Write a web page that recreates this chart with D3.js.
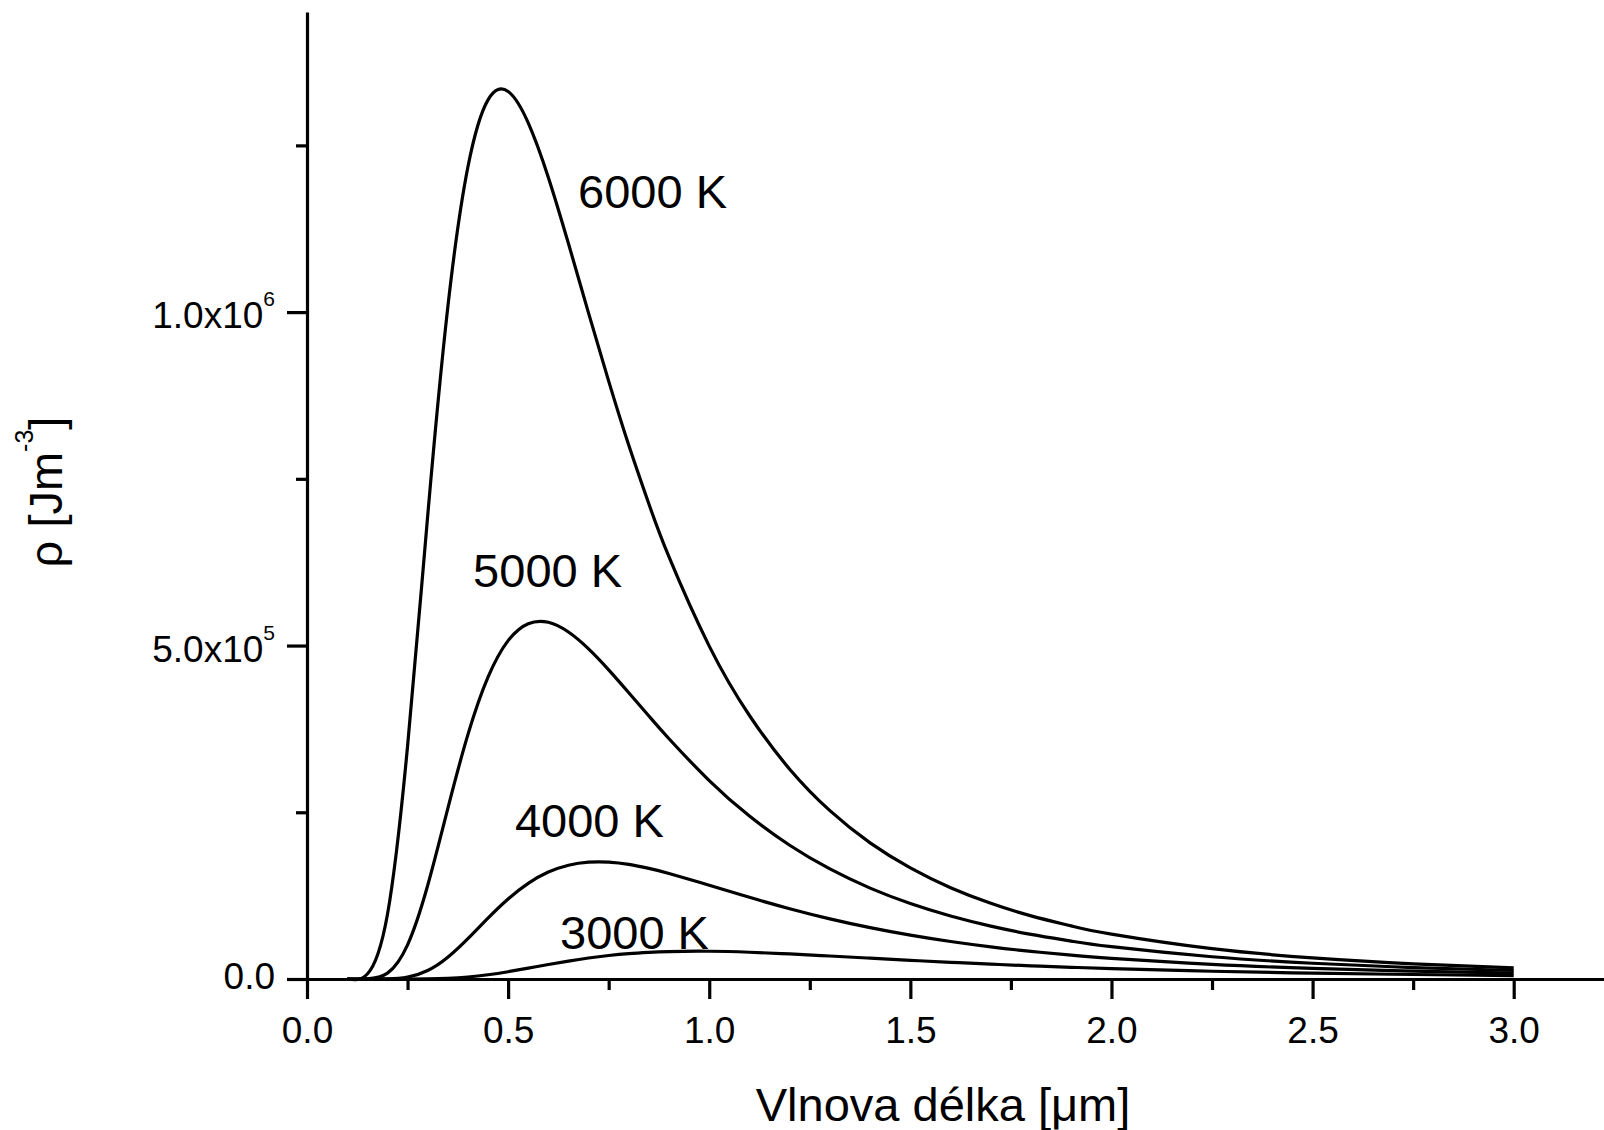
<!DOCTYPE html>
<html>
<head>
<meta charset="utf-8">
<script src="https://cdn.jsdelivr.net/npm/d3@7"></script>
<style>
body{margin:0;background:#fff;}
text{font-family:"Liberation Sans", Arial, sans-serif;fill:#000;}
</style>
</head>
<body>
<svg id="graf" width="1604" height="1130"></svg>
<script>
"use strict";

var vlnovaDelka = [0.10, 0.15, 0.20, 0.25, 0.30, 0.35, 0.40, 0.45, 0.50, 0.55,
                   0.60, 0.65, 0.70, 0.75, 0.80, 0.85, 0.90,
                   1.0, 1.1, 1.2, 1.3, 1.4, 1.5, 1.6, 1.7, 1.8, 1.9, 2.0,
                   2.25, 2.50, 2.75, 3.00];

//Energy density rho [J m^-3] for each temperature, same order as vlnovaDelka
var rho3000 = [0, 0, 1, 24, 234, 1064, 3025, 6361, 10907, 16199,
               21697, 26886, 31465, 35198, 38047, 40024, 41197,
               41590, 40120, 37560, 34463, 31210, 28014, 25010, 22258, 19776, 17561, 15600,
               11654, 8798, 6724, 5205];
var rho4000 = [0, 3, 241, 2884, 12750, 32710, 60620, 91430, 120070, 143480,
               160340, 170650, 175240, 175270, 171780, 165860, 158290,
               140660, 122460, 105390, 90180, 76980, 65730, 56210, 48180, 41430, 35750, 30950,
               21940, 15900, 11760, 8867];
var rho5000 = [0, 306, 8800, 51270, 140240, 255500, 366400, 452600, 507400, 532800,
               534850, 520300, 495000, 463600, 429300, 394370, 360300,
               297600, 244400, 200600, 165020, 136300, 113150, 94450, 79290, 66940, 56840, 48510,
               33390, 23650, 17180, 12760];
var rho6000 = [19, 7495, 96810, 349000, 694200, 1007000, 1217500, 1318300, 1330900, 1283800,
               1202000, 1102800, 998500, 896500, 800300, 712250, 632800,
               499100, 395100, 314600, 252460, 204200, 166580, 136960, 113480, 94710, 79600, 67330,
               45490, 31760, 22800, 16780];

//Captions of the curves
var teploty = ["3000 K", "4000 K", "5000 K", "6000 K"];

//Axis ticks
var xMajor = [0, 0.5, 1.0, 1.5, 2.0, 2.5, 3.0];
var xMinor = [0.25, 0.75, 1.25, 1.75, 2.25, 2.75];
var yMajor = [0, 5e5, 1e6];
var yMinor = [2.5e5, 7.5e5, 1.25e6];

var svg = d3.select("#graf");

var x = d3.scaleLinear().domain([0, 3.2245]).range([307, 1604]);
var y = d3.scaleLinear().domain([0, 1.45e6]).range([979, 12]);

//Where each caption starts (data units), same order as teploty
var popiskyX = [0.629, 0.517, 0.413, 0.674];
var popiskyY = [0.045e6, 0.2129e6, 0.5877e6, 1.156e6];

//Plot the four curves
var serie = [rho3000, rho4000, rho5000, rho6000];
var krivka = d3.line()
    .x(function(d, i) { return x(vlnovaDelka[i]); })
    .y(function(d) { return y(d); })
    .curve(d3.curveNatural);

svg.append("g")
    .selectAll("path")
    .data(serie)
    .enter().append("path")
      .attr("d", krivka)
      .attr("fill", "none")
      .attr("stroke", "#000")
      .attr("stroke-width", 3.2)
      .attr("stroke-linejoin", "round");

//Captions next to the curves
svg.append("g")
    .selectAll("text")
    .data(teploty)
    .enter().append("text")
      .attr("x", function(d, i) { return x(popiskyX[i]); })
      .attr("y", function(d, i) { return y(popiskyY[i]); })
      .attr("font-size", 47)
      .text(function(d) { return d; });

//x axis, major then minor ticks
var gx = svg.append("g")
    .attr("transform", "translate(0," + y(0) + ")")
    .call(d3.axisBottom(x).tickValues(xMajor).tickSize(20).tickSizeOuter(0)
          .tickPadding(18).tickFormat(d3.format(".1f")));
svg.append("g")
    .attr("transform", "translate(0," + y(0) + ")")
    .call(d3.axisBottom(x).tickValues(xMinor).tickSize(11).tickFormat(""))
    .select(".domain").remove();

//y axis, major then minor ticks
var gy = svg.append("g")
    .attr("transform", "translate(" + x(0) + ",0)")
    .call(d3.axisLeft(y).tickValues(yMajor).tickSize(20).tickSizeOuter(0).tickPadding(12));
svg.append("g")
    .attr("transform", "translate(" + x(0) + ",0)")
    .call(d3.axisLeft(y).tickValues(yMinor).tickSize(11).tickFormat(""))
    .select(".domain").remove();

svg.selectAll(".domain, .tick line").attr("stroke", "#000").attr("stroke-width", 3.2);
svg.selectAll(".tick text")
    .attr("font-family", "'Liberation Sans', Arial, sans-serif")
    .attr("font-size", 37)
    .attr("fill", "#000");

//y tick labels in the 5.0x10^5 form
gy.selectAll(".tick text").each(function(d) {
  var t = d3.select(this);
  if (d === 0) {
    t.text("0.0").attr("dy", "0.25em");
    return;
  }
  var exp = Math.floor(Math.log10(d));
  var man = d / Math.pow(10, exp);
  t.text(null).attr("dy", "0.42em");
  t.append("tspan").text(man.toFixed(1) + "x10");
  t.append("tspan").attr("dy", -22).attr("font-size", 21).text(exp);
});

//Axis captions
svg.append("text")
    .attr("x", 943)
    .attr("y", 1121)
    .attr("text-anchor", "middle")
    .attr("font-size", 47)
    .text("Vlnova délka [μm]");

var yl = svg.append("text")
    .attr("transform", "translate(62,492) rotate(-90)")
    .attr("text-anchor", "middle")
    .attr("font-size", 47);
yl.append("tspan").text("ρ [Jm");
yl.append("tspan").attr("font-size", 25).attr("dy", -29).text("-3");
yl.append("tspan").attr("dy", 29).text("]");
</script>
</body>
</html>
